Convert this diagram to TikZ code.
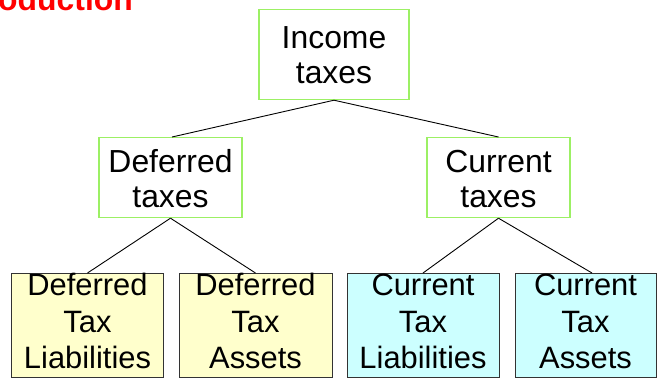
\documentclass[tikz,border=0pt]{standalone}
\usepackage{fontspec}
\setmainfont{Liberation Sans}
\begin{document}
\begin{tikzpicture}[x=1bp,y=-1bp,
  topbox/.style={draw=boxgreen, line width=1.2bp, fill=white, anchor=north,
    align=center, inner xsep=0pt, inner ysep=0pt,
    font=\fontsize{32}{35}\selectfont},
  leafbox/.style={draw=black!80, line width=1bp, anchor=north,
    align=center, inner xsep=0pt, inner ysep=0pt,
    text height=95bp, text depth=9bp,
    font=\fontsize{31}{36.5}\selectfont},
  link/.style={draw=black, line width=0.9bp}]
\definecolor{boxgreen}{HTML}{9CF064}
\definecolor{leafyellow}{HTML}{FFFFCC}
\definecolor{leafcyan}{HTML}{CCFFFF}
\useasboundingbox (0,0) rectangle (657,379);

% heading (runs off the left edge)
\node[anchor=base east, inner sep=0pt, text=red,
  font=\fontsize{32}{36}\selectfont\bfseries] (title) at (133,10) {Introduction};

% tree levels
\node[topbox, minimum width=150bp, text height=74bp, text depth=16bp] (inc) at (334,9) {Income\\taxes};
\node[topbox, minimum width=143bp, text height=70bp, text depth=10bp] (def) at (170.5,137) {Deferred\\taxes};
\node[topbox, minimum width=143bp, text height=70bp, text depth=10bp] (cur) at (498.5,137) {Current\\taxes};

\node[leafbox, fill=leafyellow, minimum width=151bp] (dtl) at (87.5,273) {Deferred\\Tax\\Liabilities};
\node[leafbox, fill=leafyellow, minimum width=153bp] (dta) at (255.5,273) {Deferred\\Tax\\Assets};
\node[leafbox, fill=leafcyan, minimum width=152bp] (ctl) at (423,273) {Current\\Tax\\Liabilities};
\node[leafbox, fill=leafcyan, minimum width=141bp] (cta) at (585.5,273) {Current\\Tax\\Assets};

% connectors
\draw[link] (inc.south) -- ([xshift=1.5bp]def.north);
\draw[link] (inc.south) -- (cur.north);
\draw[link] (def.south) -- (dtl.north);
\draw[link] (def.south) -- (dta.north);
\draw[link] (cur.south) -- (ctl.north);
\draw[link] (cur.south) -- ([xshift=6.5bp]cta.north);
\end{tikzpicture}
\end{document}
